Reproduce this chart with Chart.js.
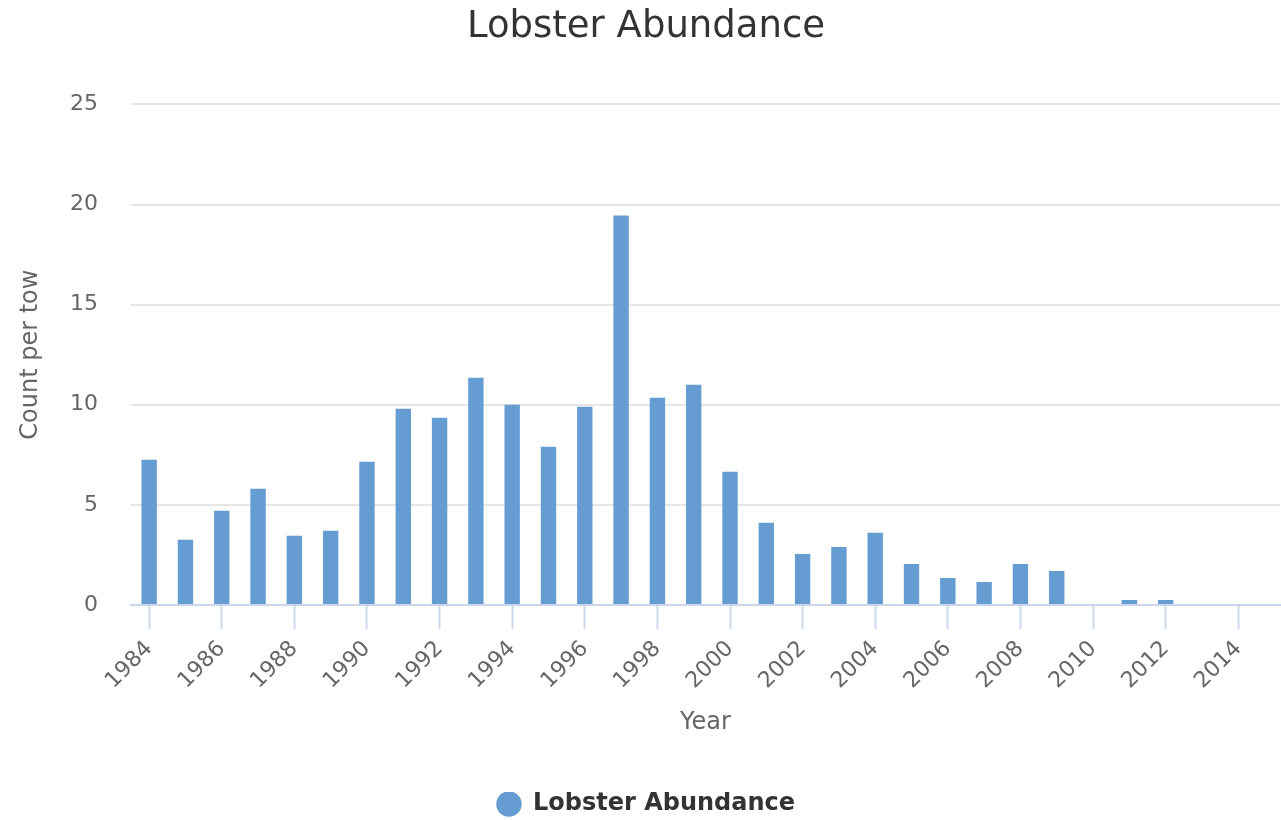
<!DOCTYPE html>
<html>
<head>
<meta charset="utf-8">
<title>Lobster Abundance</title>
<script src="https://cdn.jsdelivr.net/npm/chart.js@4/dist/chart.umd.min.js"></script>
<style>
  html, body { margin: 0; padding: 0; background: #ffffff; }
  #wrap { width: 1281px; height: 820px; position: relative; }
</style>
</head>
<body>
<div id="wrap"><canvas id="abundanceChart"></canvas></div>
<script>
// survey years and mean count per tow (null = no survey)
const years = [
  1984, 1985, 1986, 1987, 1988, 1989, 1990, 1991, 1992, 1993,
  1994, 1995, 1996, 1997, 1998, 1999, 2000, 2001, 2002, 2003,
  2004, 2005, 2006, 2007, 2008, 2009, 2010, 2011, 2012, 2013, 2014
];
const countPerTow = [
  7.25, 3.25, 4.7, 5.8, 3.45, 3.7, 7.15, 9.8, 9.35, 11.35,
  10.0, 7.9, 9.9, 19.45, 10.35, 11.0, 6.65, 4.1, 2.55, 2.9,
  3.6, 2.05, 1.35, 1.15, 2.05, 1.7, 0, 0.25, 0.25, null, null
];
const yearTicks = [1984, 1986, 1988, 1990, 1992, 1994, 1996, 1998, 2000, 2002, 2004, 2006, 2008, 2010, 2012, 2014];
const countTicks = [0, 5, 10, 15, 20, 25];

const seriesName = 'Lobster Abundance';
const barColor = '#659dd2';
const labelColor = '#666666';
const fontFamily = '"DejaVu Sans", Verdana, sans-serif';

const points = years.map((yr, i) => ({ x: yr, y: countPerTow[i] }));

const ctx = document.getElementById('abundanceChart').getContext('2d');
new Chart(ctx, {
  type: 'bar',
  data: {
    datasets: [{
      label: seriesName,
      data: points,
      backgroundColor: barColor,
      borderWidth: 0,
      categoryPercentage: 0.8,
      barPercentage: 0.53
    }]
  },
  options: {
    responsive: true,
    maintainAspectRatio: false,
    animation: false,
    layout: { padding: { left: 12, right: 1, top: 0, bottom: -6 } },
    plugins: {
      title: {
        display: true,
        text: seriesName,
        color: '#333333',
        font: { family: fontFamily, size: 37, weight: 'normal' },
        padding: { top: 5, bottom: 55 }
      },
      legend: {
        position: 'bottom',
        labels: {
          usePointStyle: true,
          pointStyle: 'circle',
          boxWidth: 24,
          boxHeight: 18,
          padding: 0,
          color: '#333333',
          font: { family: fontFamily, size: 24, weight: 'bold' }
        }
      },
      tooltip: { enabled: false }
    },
    scales: {
      x: {
        type: 'linear',
        offset: false,
        min: 1983.5,
        max: 2015.15,
        afterBuildTicks: axis => { axis.ticks = yearTicks.map(v => ({ value: v })); },
        grid: {
          offset: false,
          drawOnChartArea: false,
          drawTicks: true,
          tickLength: 24,
          tickWidth: 2,
          tickColor: '#ccd6eb'
        },
        border: { display: true, color: '#ccd6eb', width: 2 },
        ticks: {
          autoSkip: false,
          minRotation: 45,
          maxRotation: 45,
          padding: 7,
          color: labelColor,
          font: { family: fontFamily, size: 22 },
          callback: v => String(v)
        },
        title: {
          display: true,
          text: 'Year',
          color: labelColor,
          font: { family: fontFamily, size: 24 },
          padding: { top: 7, bottom: 55 }
        }
      },
      y: {
        min: 0,
        max: 25,
        afterBuildTicks: axis => { axis.ticks = countTicks.map(v => ({ value: v })); },
        afterFit: axis => { axis.width = 119; },
        grid: {
          color: c => (c.tick && c.tick.value === 0 ? 'rgba(0,0,0,0)' : '#e6e6e6'),
          lineWidth: 2,
          drawTicks: false
        },
        border: { display: false },
        ticks: {
          padding: 33,
          color: labelColor,
          font: { family: fontFamily, size: 22 }
        },
        title: {
          display: true,
          text: 'Count per tow',
          color: labelColor,
          font: { family: fontFamily, size: 24 },
          padding: { top: 4, bottom: 25 }
        }
      }
    }
  }
});
</script>
</body>
</html>
